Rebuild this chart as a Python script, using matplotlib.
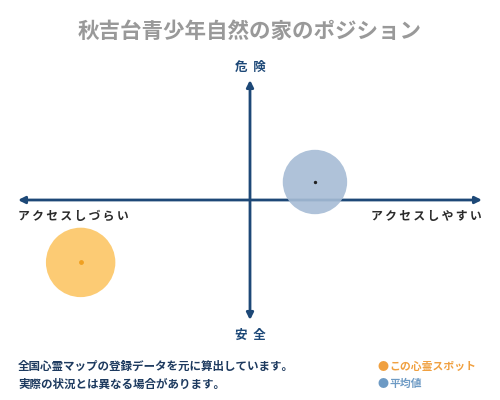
import matplotlib
matplotlib.use("Agg")
import matplotlib.pyplot as plt

plt.rcParams['font.family'] = ['Noto Sans CJK JP', 'DejaVu Sans']

title = "秋吉台青少年自然の家のポジション"
labels_top_bottom = ["危険", "安全"]
labels_left_right = ["アクセスしづらい", "アクセスしやすい"]

# position on access (x) / danger (y) scales, -100..100
spot_x, spot_y = [-73], [-52]
avg_x, avg_y = [28], [15]

notes = ["全国心霊マップの登録データを元に算出しています。",
         "実際の状況とは異なる場合があります。"]
legend_names = ["この心霊スポット", "平均値"]

navy = "#1d4877"
orange = "#fcc665"
blue = "#a6bcd5"


def spaced(s, sep="\u2009"):
    return sep.join(s)


fig = plt.figure(figsize=(5, 4), dpi=100)
ax = fig.add_axes([0.036, 0.2, 0.928, 0.6])
ax.set_xlim(-100, 100)
ax.set_ylim(-100, 100)
ax.axis('off')

# axes with arrows
ax.annotate("", xy=(100, 0), xytext=(-100, 0),
            arrowprops=dict(arrowstyle="<|-|>", color=navy, lw=2, mutation_scale=10, shrinkA=0, shrinkB=0))
ax.annotate("", xy=(0, 100), xytext=(0, -100),
            arrowprops=dict(arrowstyle="<|-|>", color=navy, lw=2, mutation_scale=10, shrinkA=0, shrinkB=0))

ax.scatter(avg_x, avg_y, s=2150, color=blue, alpha=0.9, edgecolors='none', zorder=3)
ax.scatter(avg_x, avg_y, s=2, color="#222222", zorder=4)
ax.scatter(spot_x, spot_y, s=2500, color=orange, alpha=0.9, edgecolors='none', zorder=3)
ax.scatter(spot_x, spot_y, s=6, color="#f0a020", zorder=4)

fig.text(0.5, 0.922, title, ha='center', va='center', fontsize=15.5, color="#999999", fontweight='bold')
fig.text(0.5, 0.832, spaced(labels_top_bottom[0], "  "), ha='center', va='center',
         fontsize=9, color=navy, fontweight='bold')
fig.text(0.5, 0.162, spaced(labels_top_bottom[1], "  "), ha='center', va='center',
         fontsize=9, color=navy, fontweight='bold')
fig.text(0.036, 0.458, spaced(labels_left_right[0]), ha='left', va='center', fontsize=8.5, color="#2a2a2a", fontweight='bold')
fig.text(0.964, 0.458, spaced(labels_left_right[1]), ha='right', va='center', fontsize=8.5, color="#2a2a2a", fontweight='bold')

fig.text(0.036, 0.083, notes[0], ha='left', va='center', fontsize=8.3, color="#1d3a5f", fontweight='bold')
fig.text(0.036, 0.04, notes[1], ha='left', va='center', fontsize=8.3, color="#1d3a5f", fontweight='bold')

fig.text(0.766, 0.083, "●", ha='center', va='center', fontsize=8, color="#f0a040")
fig.text(0.778, 0.083, legend_names[0], ha='left', va='center', fontsize=7.8, color="#f0a040", fontweight='bold')
fig.text(0.766, 0.04, "●", ha='center', va='center', fontsize=8, color="#6d9ac4")
fig.text(0.778, 0.04, legend_names[1], ha='left', va='center', fontsize=7.8, color="#6d9ac4", fontweight='bold')

fig.savefig("out.png", dpi=100, facecolor='white')
